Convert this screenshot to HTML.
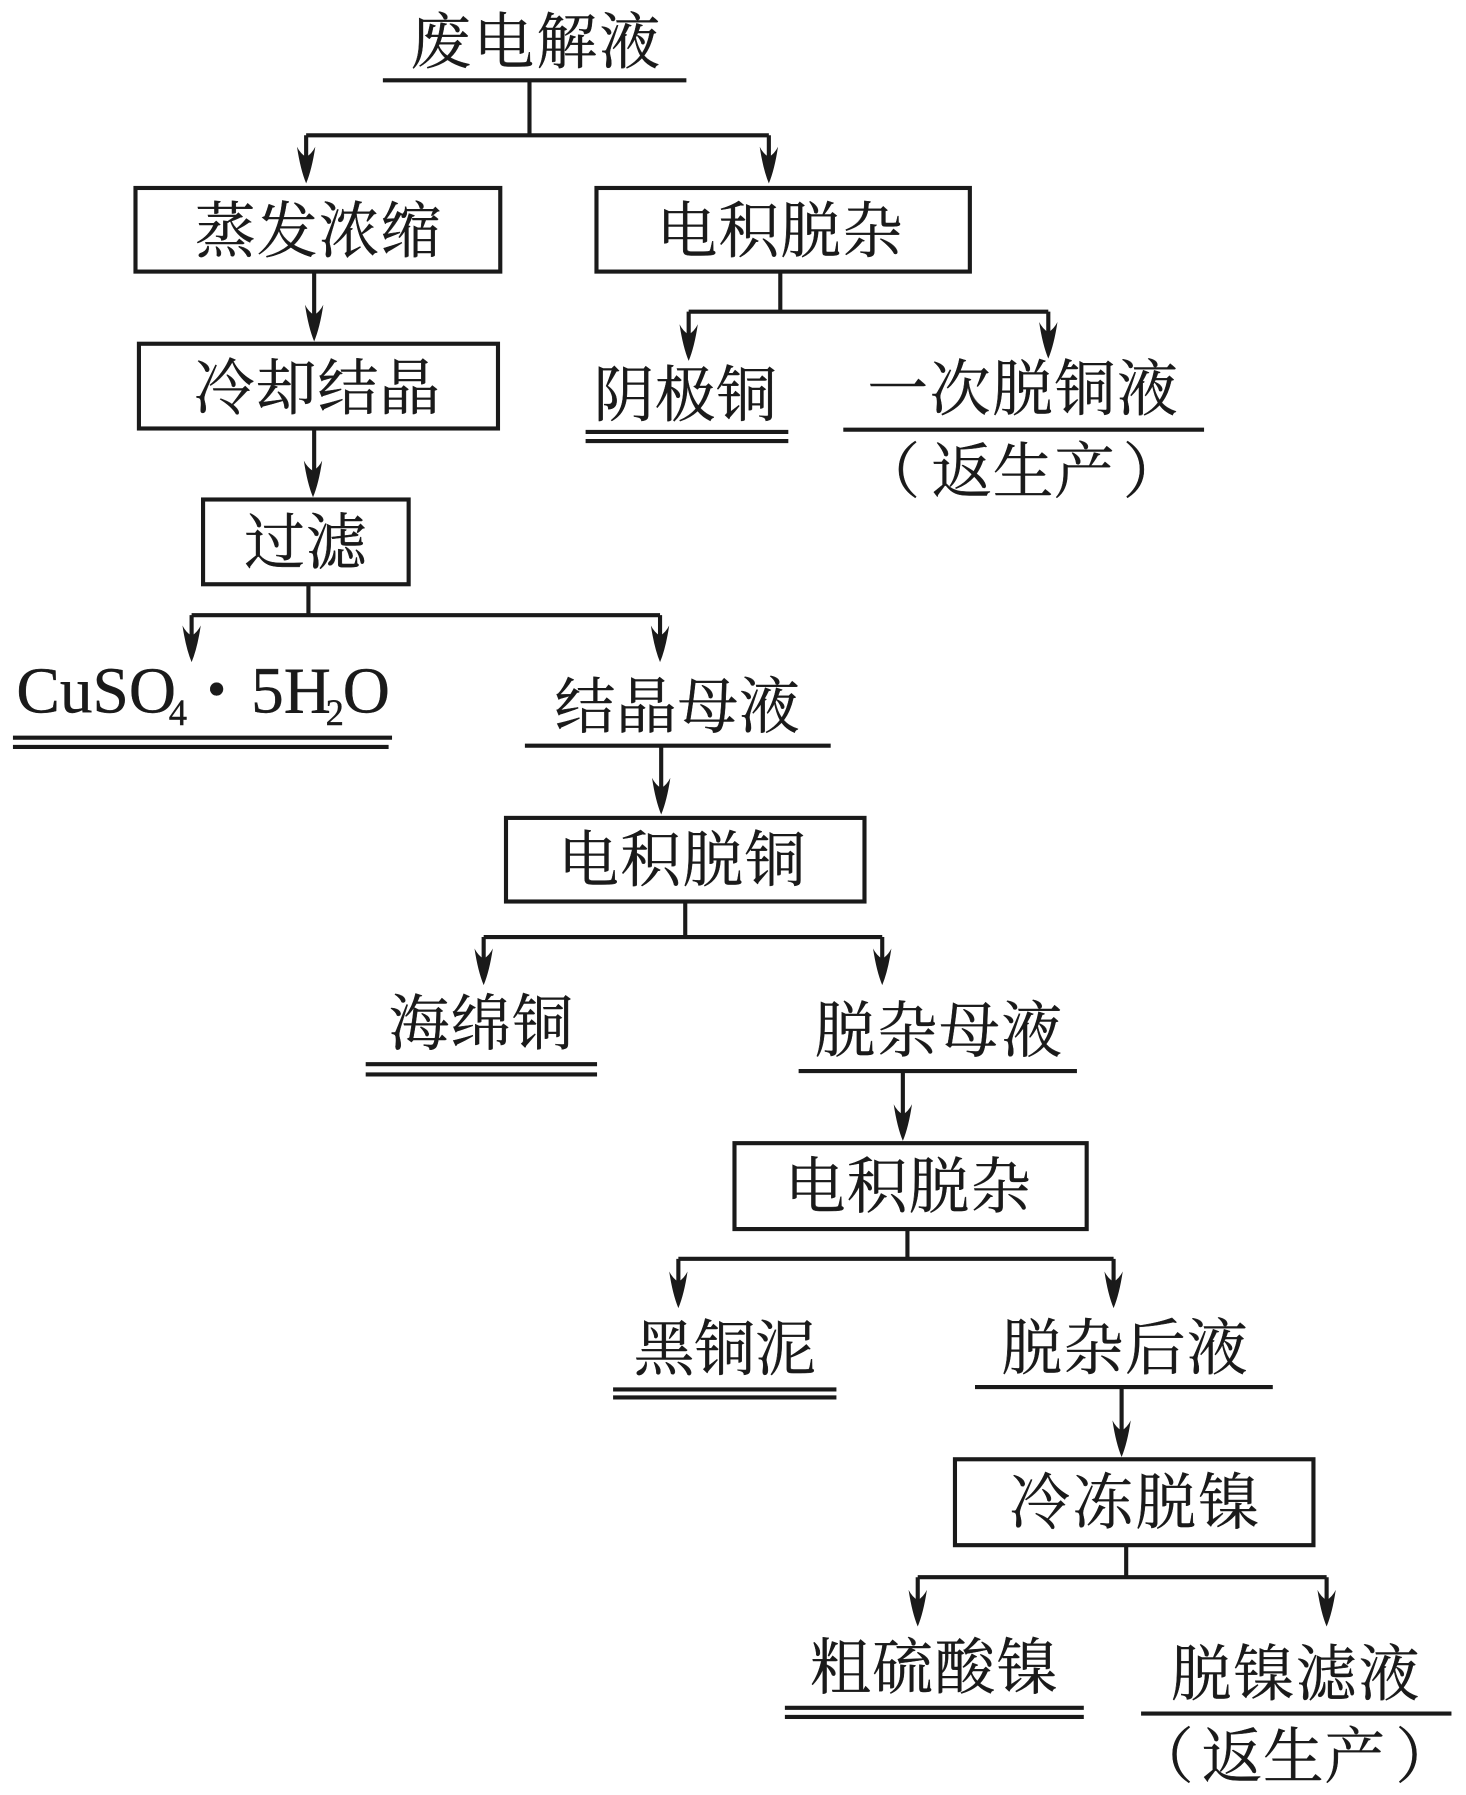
<!DOCTYPE html>
<html><head><meta charset="utf-8"><style>
html,body{margin:0;padding:0;background:#fff;width:1466px;height:1795px;overflow:hidden}
svg{display:block}
text{font-family:"Liberation Serif","Noto Serif CJK SC",serif;font-size:53px;fill:#1a1a1a;stroke:#1a1a1a;stroke-width:.35}
.l{stroke:#1a1a1a;stroke-width:3.6;fill:none}
.b{stroke:#1a1a1a;stroke-width:3.6;fill:#fff}
.a{fill:#1a1a1a;stroke:none}
</style></head><body>
<svg width="1466" height="1795" viewBox="0 0 1280 1567" xmlns="http://www.w3.org/2000/svg">
<rect width="1280" height="1567" fill="#fff"/>
<g transform="translate(-0.7,0)">
<!-- top -->
<text x="359" y="55" textLength="218">废电解液</text>
<path class="l" d="M335 70H600M463 70V118M268 118H672M268 118V140M672 118V140M275 237V280M275 374V416"/>
<path class="a" d="M260 128q3 6 8 9q5-3 8-9q-3 20-8 32q-5-12-8-32zM664 128q3 6 8 9q5-3 8-9q-3 20-8 32q-5-12-8-32zM267 266q3 6 8 9q5-3 8-9q-3 20-8 32q-5-12-8-32zM266 402q3 6 8 9q5-3 8-9q-3 20-8 32q-5-12-8-32z"/>
<rect class="b" x="119" y="164" width="318.500" height="73"/>
<text x="171" y="220" textLength="215">蒸发浓缩</text>
<rect class="b" x="521.500" y="164" width="326" height="73"/>
<text x="574" y="220" textLength="215">电积脱杂</text>
<rect class="b" x="122" y="300" width="313.500" height="74"/>
<text x="170" y="357" textLength="215">冷却结晶</text>
<rect class="b" x="178" y="436" width="179.500" height="74"/>
<text x="214" y="492" textLength="107">过滤</text>
<!-- right branch -->
<path class="l" d="M682 237V272M602 272H916M602 272V295M916 272V293"/>
<path class="a" d="M594 283q3 6 8 9q5-3 8-9q-3 20-8 32q-5-12-8-32zM908 281q3 6 8 9q5-3 8-9q-3 20-8 32q-5-12-8-32z"/>
<text x="519" y="363" textLength="160">阴极铜</text>
<path class="l" d="M512 377H689M512 385H689"/>
<text x="758" y="358" textLength="271">一次脱铜液</text>
<path class="l" d="M737 375H1052"/>
<text x="751" y="430">（</text>
<text x="814" y="430" textLength="160">返生产</text>
<text x="981" y="430">）</text>
<!-- filter branch -->
<path class="l" d="M270 510V537M168 537H577M168 537V560M577 537V560"/>
<path class="a" d="M160 546q3 6 8 9q5-3 8-9q-3 20-8 32q-5-12-8-32zM569 546q3 6 8 9q5-3 8-9q-3 20-8 32q-5-12-8-32z"/>
<text x="15" y="622" style="font-size:57px">CuSO</text>
<text x="148" y="633" style="font-size:32px">4</text>
<text x="174" y="633" style="font-size:95px">·</text>
<text x="220" y="622" style="font-size:57px">5H</text>
<text x="285" y="633" style="font-size:32px">2</text>
<text x="300" y="622" style="font-size:57px">O</text>
<path class="l" d="M12 644H343M12 652H340"/>
<text x="485" y="635" textLength="214">结晶母液</text>
<path class="l" d="M459 651H726M578 651V695"/>
<path class="a" d="M570 679q3 6 8 9q5-3 8-9q-3 20-8 32q-5-12-8-32z"/>
<rect class="b" x="442.500" y="714" width="313" height="73"/>
<text x="488" y="769" textLength="216">电积脱铜</text>
<path class="l" d="M599 787V818M423 818H771M423 818V840M771 818V840"/>
<path class="a" d="M415 828q3 6 8 9q5-3 8-9q-3 20-8 32q-5-12-8-32zM763 828q3 6 8 9q5-3 8-9q-3 20-8 32q-5-12-8-32z"/>
<text x="340" y="912" textLength="161">海绵铜</text>
<path class="l" d="M320 929H522M320 938H522"/>
<text x="712" y="918" textLength="216">脱杂母液</text>
<path class="l" d="M698 935H941M789 935V978"/>
<path class="a" d="M781 964q3 6 8 9q5-3 8-9q-3 20-8 32q-5-12-8-32z"/>
<rect class="b" x="642" y="998" width="307.500" height="75"/>
<text x="686" y="1054" textLength="215">电积脱杂</text>
<path class="l" d="M793 1073V1099M593 1099H973M593 1099V1122M973 1099V1122"/>
<path class="a" d="M585 1110q3 6 8 9q5-3 8-9q-3 20-8 32q-5-12-8-32zM965 1110q3 6 8 9q5-3 8-9q-3 20-8 32q-5-12-8-32z"/>
<text x="554" y="1196" textLength="159">黑铜泥</text>
<path class="l" d="M536 1213H731M536 1220H731"/>
<text x="875" y="1195" textLength="215">脱杂后液</text>
<path class="l" d="M852 1211H1112M980 1211V1254"/>
<path class="a" d="M972 1240q3 6 8 9q5-3 8-9q-3 20-8 32q-5-12-8-32z"/>
<rect class="b" x="834.500" y="1274" width="313" height="75"/>
<text x="882" y="1330" textLength="218">冷冻脱镍</text>
<path class="l" d="M984 1349V1377M802 1377H1159M802 1377V1400M1159 1377V1400"/>
<path class="a" d="M794 1388q3 6 8 9q5-3 8-9q-3 20-8 32q-5-12-8-32zM1151 1388q3 6 8 9q5-3 8-9q-3 20-8 32q-5-12-8-32z"/>
<text x="708" y="1474" textLength="216">粗硫酸镍</text>
<path class="l" d="M686 1491H947M686 1499H947"/>
<text x="1023" y="1480" textLength="217">脱镍滤液</text>
<path class="l" d="M997 1496H1268"/>
<text x="990" y="1552">（</text>
<text x="1050" y="1552" textLength="160">返生产</text>
<text x="1219" y="1552">）</text>
</g>
</svg>
</body></html>
